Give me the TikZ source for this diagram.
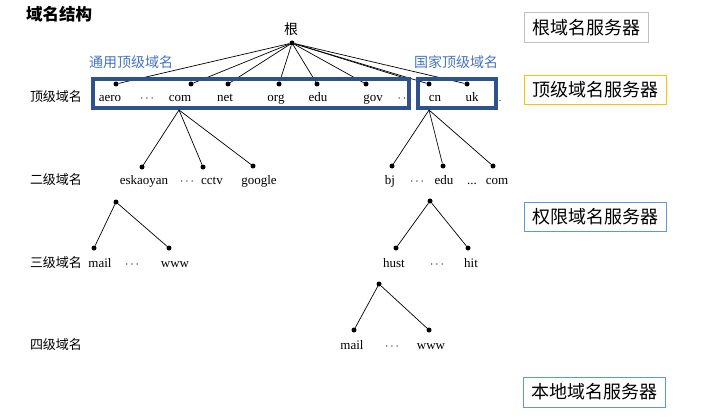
\documentclass[tikz,border=0pt]{standalone}
\usepackage{fontspec}
\setmainfont{Liberation Serif}
\newfontfamily\cjk{Noto Sans CJK SC}
\definecolor{navy}{RGB}{47,82,143}
\definecolor{lblue}{RGB}{68,114,196}
\definecolor{sgray}{RGB}{191,191,191}
\definecolor{syellow}{RGB}{255,192,0}
\definecolor{sblue}{RGB}{91,155,213}
\tikzset{
  dot/.style={circle,fill=black,inner sep=0pt,minimum size=5pt},
  lbl/.style={inner sep=0pt,font=\fontsize{13}{13}\selectfont,anchor=base},
  lvl/.style={inner sep=0pt,font=\cjk\fontsize{13}{13}\selectfont},
  cat/.style={inner sep=0pt,font=\cjk\fontsize{14}{14}\selectfont,text=lblue},
  srv/.style={draw,line width=1pt,inner sep=0pt,font=\cjk\fontsize{18}{18}\selectfont,text=black},
  tbox/.style={draw=navy,line width=4.5pt},
  edge/.style={line width=0.7pt}
}
\begin{document}
\begin{tikzpicture}[x=1pt,y=-1pt]
\useasboundingbox (0,0) rectangle (723,420);
% title
\node[inner sep=0pt,font=\cjk\bfseries\fontsize{16.5}{16.5}\selectfont] (title) at (59,14) {域名结构};
% root
\node[inner sep=0pt,font=\cjk\fontsize{14}{14}\selectfont] (rootl) at (291,29) {根};
\node[dot] (r) at (292,43) {};
% top-level dots
\node[dot] (aero) at (116,84) {};
\node[dot] (com) at (191,84) {};
\node[dot] (net) at (228,84) {};
\node[dot] (org) at (279,84) {};
\node[dot] (edu) at (317,84) {};
\node[dot] (gov) at (366,84) {};
\node[dot] (cn) at (429,84) {};
\node[dot] (uk) at (467,84) {};
\coordinate (gap) at (411,80);
\foreach \t in {aero,com,net,org,edu,gov,gap,cn,uk} \draw[edge] (r) -- (\t);
% top-level labels
\node[lbl] (laero) at (110,101) {aero};
\node[lbl] (ld1) at (147,101) {$\cdots$};
\node[lbl] (lcom) at (180,101) {com};
\node[lbl] (lnet) at (225,101) {net};
\node[lbl] (lorg) at (276,101) {org};
\node[lbl] (ledu) at (318,101) {edu};
\node[lbl] (lgov) at (373,101) {gov};
\node[lbl] (ld2) at (402,101) {$\cdot\,\cdot$};
\node[lbl] (lcn) at (435,101) {cn};
\node[lbl] (luk) at (472,101) {uk};
\node[lbl,font=\fontsize{10}{10}\selectfont] (ld3) at (500,101) {.};
% boxes
\draw[tbox] (93,79) rectangle (409,108);
\draw[tbox] (418,79) rectangle (496,108);
\node[cat] (gen) at (131,62) {通用顶级域名};
\node[cat] (nat) at (456,62) {国家顶级域名};
% level labels
\node[lvl] (l1) at (56,97) {顶级域名};
\node[lvl] (l2) at (56,180) {二级域名};
\node[lvl] (l3) at (56,263) {三级域名};
\node[lvl] (l4) at (56,345) {四级域名};
% second level under com
\coordinate (comB) at (179,110);
\node[dot] (esk) at (142,167) {};
\node[dot] (cctv) at (203,167) {};
\node[dot] (goog) at (253,166) {};
\foreach \t in {esk,cctv,goog} \draw[edge] (comB) -- (\t);
\node[lbl] (lesk) at (144,184) {eskaoyan};
\node[lbl] (ld4) at (187,184) {$\cdots$};
\node[lbl] (lcctv) at (212,184) {cctv};
\node[lbl] (lgoog) at (259,184) {google};
% second level under cn
\coordinate (cnB) at (429,110);
\node[dot] (bj) at (392,166) {};
\node[dot] (cedu) at (443,166) {};
\node[dot] (ccom) at (493,166) {};
\foreach \t in {bj,cedu,ccom} \draw[edge] (cnB) -- (\t);
\node[lbl] (lbj) at (390,184) {bj};
\node[lbl] (ld5) at (417,184) {$\cdots$};
\node[lbl] (lcedu) at (444,184) {edu};
\node[lbl] (ld6) at (472,184) {...};
\node[lbl] (lccom) at (497,184) {com};
% third level under eskaoyan
\node[dot] (t1) at (116,202) {};
\node[dot] (mail1) at (94,248) {};
\node[dot] (www1) at (169,248) {};
\draw[edge] (t1) -- (mail1);
\draw[edge] (t1) -- (www1);
\node[lbl] (lmail1) at (100,267) {mail};
\node[lbl] (ld7) at (132,267) {$\cdots$};
\node[lbl] (lwww1) at (175,267) {www};
% third level under edu
\node[dot] (t2) at (430,201) {};
\node[dot] (hust) at (396,248) {};
\node[dot] (hit) at (468,248) {};
\draw[edge] (t2) -- (hust);
\draw[edge] (t2) -- (hit);
\node[lbl] (lhust) at (394,267) {hust};
\node[lbl] (ld8) at (437,267) {$\cdots$};
\node[lbl] (lhit) at (471,267) {hit};
% fourth level under hust
\node[dot] (t3) at (379,284) {};
\node[dot] (mail2) at (354,330) {};
\node[dot] (www2) at (429,330) {};
\draw[edge] (t3) -- (mail2);
\draw[edge] (t3) -- (www2);
\node[lbl] (lmail2) at (352,349) {mail};
\node[lbl] (ld9) at (392,349) {$\cdots$};
\node[lbl] (lwww2) at (431,349) {www};
% server boxes
\node[srv,draw=sgray,minimum width=124pt,minimum height=30pt] (s1) at (586,28) {根域名服务器};
\node[srv,draw=syellow,minimum width=142pt,minimum height=29pt] (s2) at (595,90) {顶级域名服务器};
\node[srv,draw=sblue,minimum width=142pt,minimum height=29pt] (s3) at (595,216.5) {权限域名服务器};
\node[srv,draw=sblue,minimum width=142pt,minimum height=30pt] (s4) at (594,392) {本地域名服务器};
\end{tikzpicture}
\end{document}
